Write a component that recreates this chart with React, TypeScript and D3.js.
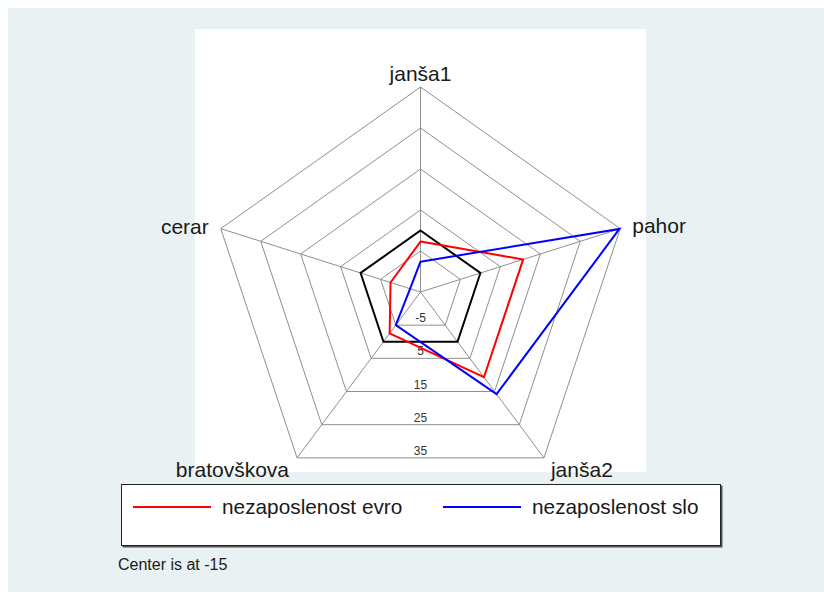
import { useRef, useEffect } from "react";
import * as d3 from "d3";

// axes, clockwise from the top
const categories = ["janša1", "pahor", "janša2", "bratovškova", "cerar"];
const evro = [-2.7, 10.7, 10.7, -2.5, -7.5];
const slo = [-7.6, 34.8, 15.8, -5, -12.4];
const zeroLine = [0, 0, 0, 0, 0];
const ringTicks = [-5, 5, 15, 25, 35];
const seriesNames = ["nezaposlenost evro", "nezaposlenost slo"];
const note = "Center is at -15";

const W = 824;
const H = 592;
const FONT = "'Liberation Sans', Arial, sans-serif";

export default function App() {
  const svgRef = useRef<SVGSVGElement>(null);

  useEffect(() => {
    if (!svgRef.current) return;
    const svg = d3.select(svgRef.current);
    svg.selectAll("*").remove();

    // frame
    svg.append("rect").attr("x", 8).attr("y", 8).attr("width", W - 8).attr("height", H - 8)
      .attr("fill", "#e9f1f3");
    svg.append("rect").attr("x", 195).attr("y", 29).attr("width", 451).attr("height", 443)
      .attr("fill", "#ffffff");

    const cx = 420.5, cy = 292;
    const rx = 210, ry = 205;
    const r = d3.scaleLinear().domain([-15, 35]).range([0, 1]);
    const angle = d3.scaleLinear().domain([0, categories.length]).range([0, 2 * Math.PI]);

    const pt = (i: number, v: number): [number, number] => {
      const a = angle(i);
      const f = r(v);
      return [cx + rx * f * Math.sin(a), cy - ry * f * Math.cos(a)];
    };
    const poly = (vals: number[]) => vals.map((v, i) => pt(i, v));
    const line = d3.line().curve(d3.curveLinearClosed);

    const g = svg.append("g");

    // rings
    ringTicks.forEach((t) => {
      g.append("path").attr("d", line(categories.map((_, i) => pt(i, t))))
        .attr("fill", "none").attr("stroke", "#8f8f8f").attr("stroke-width", 1);
    });
    // spokes
    categories.forEach((_, i) => {
      const [x, y] = pt(i, 35);
      g.append("line").attr("x1", cx).attr("y1", cy).attr("x2", x).attr("y2", y)
        .attr("stroke", "#8f8f8f").attr("stroke-width", 1);
    });
    // ring labels along the bottom edge
    ringTicks.forEach((t) => {
      const y = pt(2, t)[1];
      g.append("text").attr("x", cx).attr("y", y - 3).attr("text-anchor", "middle")
        .style("font-family", FONT).style("font-size", "12px").style("fill", "#333")
        .text(String(t));
    });

    // series
    const series = [
      { vals: zeroLine, color: "#000000" },
      { vals: evro, color: "#ff0000" },
      { vals: slo, color: "#0000ff" },
    ];
    series.forEach((s) => {
      g.append("path").attr("d", line(poly(s.vals)))
        .attr("fill", "none").attr("stroke", s.color).attr("stroke-width", 2)
        .attr("stroke-linejoin", "miter");
    });

    // axis labels
    const labelPos: { dx: number; dy: number; anchor: string }[] = [
      { dx: 0, dy: -6, anchor: "middle" },
      { dx: 12, dy: 4, anchor: "start" },
      { dx: 7, dy: 19, anchor: "start" },
      { dx: -8, dy: 19, anchor: "end" },
      { dx: -12, dy: 5, anchor: "end" },
    ];
    categories.forEach((c, i) => {
      const [x, y] = pt(i, 35);
      const p = labelPos[i];
      g.append("text").attr("x", x + p.dx).attr("y", y + p.dy).attr("text-anchor", p.anchor)
        .style("font-family", FONT).style("font-size", "21px").style("fill", "#1a1a1a")
        .text(c);
    });

    // legend
    const lg = svg.append("g");
    lg.append("rect").attr("x", 122.5).attr("y", 485.5).attr("width", 600).attr("height", 62)
      .attr("fill", "#555");
    lg.append("rect").attr("x", 121.5).attr("y", 484.5).attr("width", 599).attr("height", 61)
      .attr("fill", "#fff").attr("stroke", "#222").attr("stroke-width", 1);
    const legendItems = [
      { name: seriesNames[0], color: "#ff0000", x: 133 },
      { name: seriesNames[1], color: "#0000ff", x: 443 },
    ];
    legendItems.forEach((d) => {
      lg.append("line").attr("x1", d.x).attr("x2", d.x + 78).attr("y1", 507).attr("y2", 507)
        .attr("stroke", d.color).attr("stroke-width", 2);
      lg.append("text").attr("x", d.x + 89).attr("y", 514)
        .style("font-family", FONT).style("font-size", "20.8px").style("fill", "#1a1a1a")
        .text(d.name);
    });

    svg.append("text").attr("x", 118).attr("y", 570)
      .style("font-family", FONT).style("font-size", "16px").style("fill", "#1a1a1a")
      .text(note);

    return () => {
      svg.selectAll("*").remove();
    };
  }, []);

  return (
    <div style={{ position: "absolute", left: 0, top: 0 }}>
      <svg ref={svgRef} width={W} height={H} style={{ display: "block" }} />
    </div>
  );
}
